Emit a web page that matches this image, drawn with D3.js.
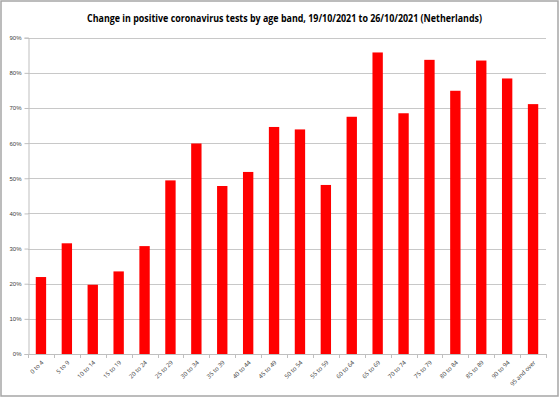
<!DOCTYPE html>
<html>
<head>
<meta charset="utf-8">
<script src="https://cdn.jsdelivr.net/npm/d3@7"></script>
<style>
  body { margin: 0; background: #fff; }
  svg { display: block; font-family: "Open Sans", "Liberation Sans", sans-serif; }
</style>
</head>
<body>
<svg id="chart" width="560" height="398"></svg>
<script>
// age bands and the change in positive tests (fraction)
var ageBands = ["0 to 4", "5 to 9", "10 to 14", "15 to 19", "20 to 24", "25 to 29", "30 to 34",
  "35 to 39", "40 to 44", "45 to 49", "50 to 54", "55 to 59", "60 to 64", "65 to 69",
  "70 to 74", "75 to 79", "80 to 84", "85 to 89", "90 to 94", "95 and over"];
var changes = [0.219, 0.315, 0.197, 0.235, 0.307, 0.494, 0.599, 0.478, 0.518, 0.646,
  0.639, 0.481, 0.675, 0.858, 0.685, 0.837, 0.749, 0.835, 0.784, 0.711];
var yTicks = [0, 0.1, 0.2, 0.3, 0.4, 0.5, 0.6, 0.7, 0.8, 0.9];
var title = "Change in positive coronavirus tests by age band, 19/10/2021 to 26/10/2021 (Netherlands)";

var svg = d3.select("#chart");
var plotL = 28, plotR = 546, plotT = 37.7, plotB = 354;

// outer frame
svg.append("rect").attr("x", 1).attr("y", 1).attr("width", 557).attr("height", 395)
  .attr("fill", "#fff").attr("stroke", "#a6a6a6").attr("stroke-width", 1.5);

var x = d3.scaleBand().domain(ageBands).range([plotL, plotR]).paddingInner(0.6).paddingOuter(0.3);
var y = d3.scaleLinear().domain([0, 0.9]).range([plotB, plotT]);

// gridlines
svg.append("g").selectAll("line").data(yTicks.slice(1)).join("line")
  .attr("x1", plotL).attr("x2", plotR)
  .attr("y1", function(d){ return Math.round(y(d)) + 0.5; })
  .attr("y2", function(d){ return Math.round(y(d)) + 0.5; })
  .attr("stroke", "#c8c8c8").attr("stroke-width", 1);

// bars
svg.append("g").selectAll("rect").data(changes).join("rect")
  .attr("x", function(d, i){ return x(ageBands[i]); })
  .attr("y", function(d){ return y(d); })
  .attr("width", x.bandwidth())
  .attr("height", function(d){ return plotB - y(d); })
  .attr("fill", "#ff0000");

// y axis
var yAxis = svg.append("g").attr("transform", "translate(" + (plotL + 0.5) + ",0)")
  .call(d3.axisLeft(y).tickValues(yTicks).tickFormat(d3.format(".0%")).tickSize(4).tickPadding(3));
yAxis.selectAll("line, path").attr("stroke", "#bfbfbf");
yAxis.selectAll("text").attr("font-size", "6px").attr("fill", "#404040");

// x axis with ticks at band boundaries
var bounds = d3.range(ageBands.length + 1).map(function(i){ return plotL + i * (plotR - plotL) / ageBands.length; });
var xg = svg.append("g");
xg.append("line").attr("x1", plotL).attr("x2", plotR)
  .attr("y1", plotB + 0.5).attr("y2", plotB + 0.5).attr("stroke", "#bfbfbf");
xg.selectAll(".tk").data(bounds).join("line").attr("class", "tk")
  .attr("x1", function(d){ return Math.round(d) + 0.5; }).attr("x2", function(d){ return Math.round(d) + 0.5; })
  .attr("y1", plotB).attr("y2", plotB + 4).attr("stroke", "#bfbfbf");
xg.selectAll("text").data(ageBands).join("text")
  .attr("transform", function(d){
    return "translate(" + (x(d) + x.bandwidth() / 2 + 3) + "," + (plotB + 9) + ") rotate(-45)";
  })
  .attr("text-anchor", "end").attr("font-size", "6px").attr("fill", "#404040")
  .text(function(d){ return d; });

// title
svg.append("text").attr("x", 284.5).attr("y", 22).attr("text-anchor", "middle")
  .attr("font-size", "10px").attr("font-weight", "bold").attr("fill", "#000")
  .attr("textLength", 395).attr("lengthAdjust", "spacingAndGlyphs")
  .text(title);
</script>
</body>
</html>
